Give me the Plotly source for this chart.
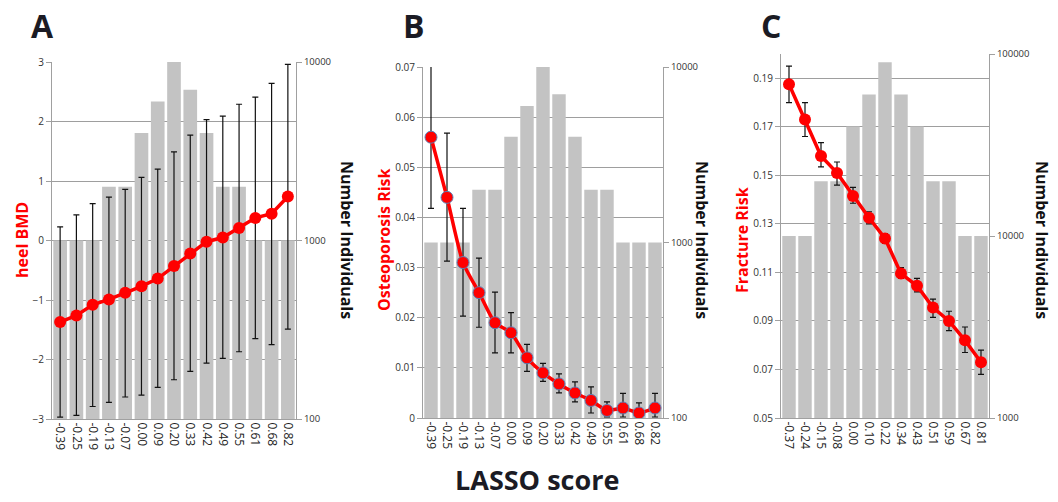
import plotly.graph_objects as go

W, H = 1058, 502

# ---------------- data ----------------
cats_ab = ["-0.39", "-0.25", "-0.19", "-0.13", "-0.07", "0.00", "0.09", "0.20",
           "0.33", "0.42", "0.49", "0.55", "0.61", "0.68", "0.82"]
cats_c = ["-0.37", "-0.24", "-0.15", "-0.08", "0.00", "0.10", "0.22", "0.34",
          "0.43", "0.51", "0.59", "0.67", "0.81"]

n_ab = [1000, 1000, 1000, 2000, 2000, 4000, 6000, 10000, 7000, 4000, 2000, 2000, 1000, 1000, 1000]
n_c = [10000, 10000, 20000, 20000, 40000, 60000, 90000, 60000, 40000, 20000, 20000, 10000, 10000]

bmd = [-1.37, -1.26, -1.08, -0.99, -0.88, -0.77, -0.64, -0.43, -0.22, -0.02, 0.05, 0.21, 0.38, 0.45, 0.74]
bmd_hi = [0.23, 0.43, 0.62, 0.73, 0.86, 1.06, 1.20, 1.49, 1.77, 2.03, 2.09, 2.29, 2.41, 2.64, 2.96]
bmd_lo = [-2.97, -2.94, -2.79, -2.72, -2.63, -2.60, -2.47, -2.34, -2.20, -2.06, -1.98, -1.87, -1.65, -1.75, -1.49]

osteo = [0.056, 0.044, 0.031, 0.025, 0.019, 0.017, 0.012, 0.009, 0.0068, 0.005, 0.0035, 0.0015, 0.002, 0.001, 0.002]
osteo_hi = [0.0705, 0.0568, 0.0418, 0.0319, 0.0251, 0.0210, 0.0147, 0.0109, 0.0088, 0.0072, 0.0062, 0.0032, 0.0049, 0.0030, 0.0049]
osteo_lo = [0.0418, 0.0313, 0.0203, 0.0181, 0.0130, 0.0130, 0.0093, 0.0073, 0.0050, 0.0032, 0.0010, 0.0002, 0.0002, 0.0001, 0.0002]

frac = [0.1875, 0.173, 0.158, 0.151, 0.1415, 0.1325, 0.124, 0.1095, 0.1045, 0.0955, 0.090, 0.082, 0.073]
frac_hi = [0.195, 0.180, 0.1635, 0.1555, 0.145, 0.135, 0.126, 0.112, 0.1075, 0.099, 0.094, 0.0875, 0.078]
frac_lo = [0.180, 0.166, 0.1535, 0.146, 0.1385, 0.130, 0.122, 0.1075, 0.102, 0.0915, 0.086, 0.077, 0.068]

count_ticks_ab = [100, 1000, 10000]
count_ticks_c = [1000, 10000, 100000]

# ---------------- style ----------------
FONT = "Open Sans"
RED = "#ff0000"
BAR = "#c3c3c3"
GRID = "#9e9e9e"
AXL = "#a0a0a0"
TICKC = "#333333"


def px_x(p):
    return p / W


def px_y(p):
    return 1 - p / H


panels = [
    dict(cats=cats_ab, n=n_ab, v=bmd, hi=bmd_hi, lo=bmd_lo, x0=52, x1=296, y0=62, y1=419,
         lrange=[-3, 3], tick0=-3, dtick=1, fmt="", rrange=[2, 4], rticks=count_ticks_ab,
         title="heel BMD", tx=22, rtx=347, letter="A", lx=42, spline=False, mline=None),
    dict(cats=cats_ab, n=n_ab, v=osteo, hi=osteo_hi, lo=osteo_lo, x0=423, x1=663, y0=67, y1=418,
         lrange=[0, 0.07], tick0=0, dtick=0.01, fmt="", rrange=[2, 4], rticks=count_ticks_ab,
         title="Osteoporosis Risk", tx=384, rtx=702, letter="B", lx=414, spline=True, mline="#5b7fb5"),
    dict(cats=cats_c, n=n_c, v=frac, hi=frac_hi, lo=frac_lo, x0=781, x1=989, y0=54, y1=418,
         lrange=[0.05, 0.20], tick0=0.05, dtick=0.02, fmt=".2f", rrange=[3, 5], rticks=count_ticks_c,
         title="Fracture Risk", tx=742, rtx=1042, letter="C", lx=771, spline=False, mline=None),
]

fig = go.Figure()
layout = {}
annotations = []

for i, p in enumerate(panels):
    xi = i + 1
    yb = 2 * i + 1  # bars (right, log)
    yl = 2 * i + 2  # line (left)
    xname = "x" if xi == 1 else f"x{xi}"
    ybname = "y" if yb == 1 else f"y{yb}"
    ylname = f"y{yl}"

    fig.add_trace(go.Bar(x=p["cats"], y=p["n"], marker=dict(color=BAR, line=dict(width=0)),
                         xaxis=xname, yaxis=ybname, showlegend=False, hoverinfo="skip"))

    ep = [h - v for h, v in zip(p["hi"], p["v"])]
    em = [v - l for v, l in zip(p["v"], p["lo"])]
    mk = dict(color=RED, size=12)
    if p["mline"]:
        mk["line"] = dict(color=p["mline"], width=1)
    fig.add_trace(go.Scatter(
        x=p["cats"], y=p["v"], mode="lines+markers",
        line=dict(color=RED, width=3.5, shape="spline" if p["spline"] else "linear", smoothing=0.6),
        marker=mk,
        error_y=dict(type="data", symmetric=False, array=ep, arrayminus=em,
                     color="#111111", thickness=1.2, width=3),
        xaxis=xname, yaxis=ylname, showlegend=False, cliponaxis=True))

    dom_x = [px_x(p["x0"]), px_x(p["x1"])]
    dom_y = [px_y(p["y1"]), px_y(p["y0"])]
    n = len(p["cats"])
    layout["xaxis" if xi == 1 else f"xaxis{xi}"] = dict(
        domain=dom_x, anchor=ybname, type="category", range=[-0.5, n - 0.5],
        tickangle=90, tickfont=dict(family=FONT, size=12, color="#222222"),
        showline=True, linecolor=AXL, linewidth=1, ticks="", showgrid=False,
        automargin=False, fixedrange=True)
    layout["yaxis" if yb == 1 else f"yaxis{yb}"] = dict(
        domain=dom_y, anchor=xname, type="log", range=p["rrange"], side="right",
        tickvals=p["rticks"], ticktext=[str(t) for t in p["rticks"]],
        tickfont=dict(family=FONT, size=9.5, color=TICKC),
        showline=True, linecolor=AXL, linewidth=1, ticks="outside", ticklen=5, tickcolor=AXL,
        showgrid=False, zeroline=False, automargin=False)
    layout[f"yaxis{yl}"] = dict(
        domain=dom_y, anchor=xname, overlaying=ybname, side="left", range=p["lrange"],
        tick0=p["tick0"], dtick=p["dtick"], tickformat=p["fmt"],
        tickfont=dict(family=FONT, size=10, color=TICKC),
        showline=True, linecolor=AXL, linewidth=1, ticks="outside", ticklen=5, tickcolor=AXL,
        showgrid=True, gridcolor=GRID, gridwidth=1, zeroline=False, automargin=False)

    annotations.append(dict(text=f"<b>{p['title']}</b>", x=px_x(p["tx"]), y=px_y(240),
                            xref="paper", yref="paper", showarrow=False, textangle=-90,
                            font=dict(family=FONT, size=16, color=RED),
                            xanchor="center", yanchor="middle"))
    annotations.append(dict(text="<b>Number Individuals</b>", x=px_x(p["rtx"]), y=px_y(240),
                            xref="paper", yref="paper", showarrow=False, textangle=90,
                            font=dict(family=FONT, size=16, color="#111111"),
                            xanchor="center", yanchor="middle"))
    annotations.append(dict(text=f"<b>{p['letter']}</b>", x=px_x(p["lx"]), y=px_y(26),
                            xref="paper", yref="paper", showarrow=False,
                            font=dict(family=FONT, size=32, color="#1b1b24"),
                            xanchor="center", yanchor="middle"))

annotations.append(dict(text="<b>LASSO score</b>", x=px_x(537), y=px_y(500),
                        xref="paper", yref="paper", showarrow=False,
                        font=dict(family=FONT, size=27, color="#1b1b24"),
                        xanchor="center", yanchor="bottom"))

fig.update_layout(
    width=W, height=H, margin=dict(l=0, r=0, t=0, b=0),
    paper_bgcolor="white", plot_bgcolor="rgba(0,0,0,0)",
    bargap=0.16, annotations=annotations, **layout)

fig.write_html("out.html")
